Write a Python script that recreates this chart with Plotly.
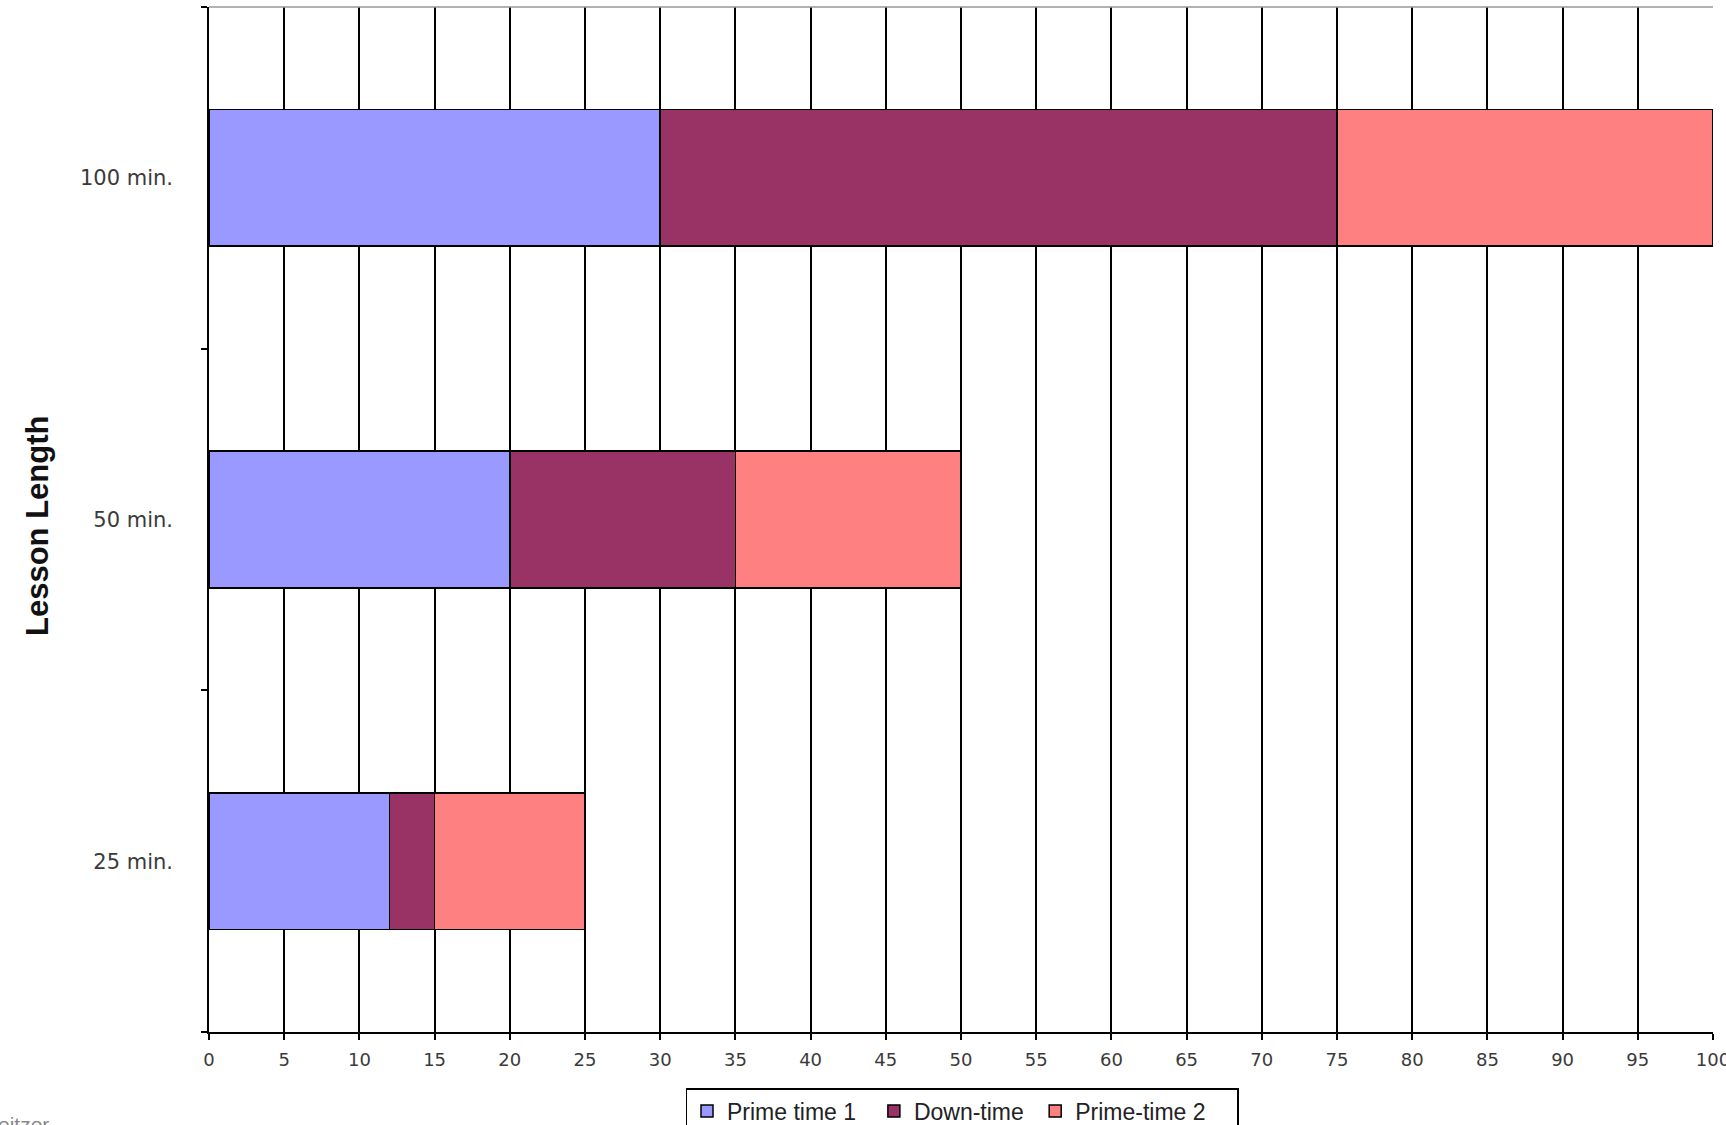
import plotly.graph_objects as go

categories = ["25 min.", "50 min.", "100 min."]
series_names = ["Prime time 1", "Down-time", "Prime-time 2"]
prime_time_1 = [12, 20, 30]
down_time = [3, 15, 45]
prime_time_2 = [10, 15, 25]
colors = ["#9999FF", "#993366", "#FF8080"]
x_ticks = list(range(0, 101, 5))

W, H = 1726, 1125
L, R, T, B = 209, 13, 7, 93
pw = W - L - R
ph = H - T - B

def px_x(p):
    return (p - L) / pw

def px_y(p):
    return (H - B - p) / ph

pads = [2, 1, 4]

fig = go.Figure()
for name, vals, col, n in zip(series_names, [prime_time_1, down_time, prime_time_2], colors, pads):
    fig.add_trace(go.Bar(
        y=categories, x=vals, name=name + "\u00a0" * n, orientation="h",
        marker=dict(color=col, line=dict(color="black", width=1.5)),
    ))

fig.update_layout(
    width=W, height=H,
    margin=dict(l=L, r=R, t=T, b=B, pad=0, autoexpand=False),
    barmode="stack", bargap=0.6,
    paper_bgcolor="white", plot_bgcolor="white",
    showlegend=True,
    legend=dict(
        orientation="h", x=px_x(962), xanchor="center",
        y=px_y(1088), yanchor="top",
        bordercolor="black", borderwidth=1.5, bgcolor="white",
        font=dict(family="Liberation Sans", size=23, color="#222222"),
        traceorder="normal",
    ),
    xaxis=dict(
        range=[0, 100], tickvals=x_ticks, ticktext=[str(v) for v in x_ticks],
        showgrid=True, gridcolor="black", gridwidth=1.5,
        showline=True, linecolor="black", linewidth=1.5,
        ticks="outside", ticklen=6, tickcolor="black", tickwidth=1.5,
        zeroline=False, automargin=False,
        tickfont=dict(family="DejaVu Sans", size=18, color="#3a3a3a"),
        ticklabelstandoff=5, ticklabeloverflow="allow",
    ),
    yaxis=dict(
        categoryorder="array", categoryarray=categories,
        showgrid=False, showline=True, linecolor="black", linewidth=1.5,
        ticks="outside", ticklen=6, tickcolor="black", tickwidth=1.5,
        tickson="boundaries", automargin=False,
        tickfont=dict(family="DejaVu Sans", size=21, color="#3a3a3a"),
        ticklabelstandoff=30,
    ),
    shapes=[
        dict(type="line", xref="paper", yref="paper", x0=0, x1=1, y0=1, y1=1,
             line=dict(color="#999999", width=1.5), layer="above"),
    ],
    annotations=[
        dict(text="<b>Lesson Length</b>", textangle=-90, xref="paper", yref="paper",
             x=px_x(37), y=px_y(526), xanchor="center", yanchor="middle",
             showarrow=False,
             font=dict(family="Liberation Sans", size=31, color="#111111")),
        dict(text="eitzer", xref="paper", yref="paper",
             x=px_x(-4), y=px_y(1124), xanchor="left", yanchor="middle",
             showarrow=False,
             font=dict(family="Liberation Sans", size=21, color="#888888")),
    ],
)

fig.write_html("out.html")
